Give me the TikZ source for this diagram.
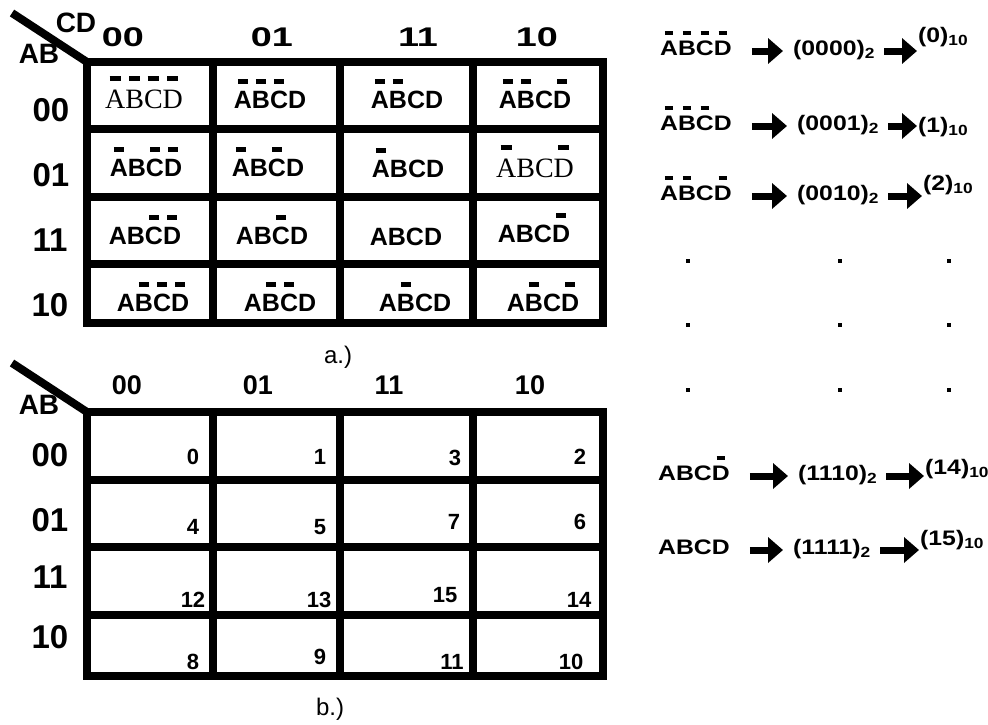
\documentclass[tikz,border=0pt]{standalone}
\usepackage{fontspec}
\setmainfont{Liberation Sans}
\newfontfamily\tmsfont{Liberation Serif}
\newfontfamily\hdfont{Liberation Sans}[FakeStretch=1.4]
\newfontfamily\rsfont{Liberation Sans}[FakeStretch=1.18]
\usetikzlibrary{arrows.meta}

% short bar over one letter
\newcommand{\nb}[1]{\ooalign{#1\cr\hidewidth\rule[0.98em]{0.4em}{0.17em}\hidewidth\cr}}

\tikzset{
  kline/.style={line width=8pt},
  hdtop/.style={font=\hdfont\bfseries\fontsize{27}{30}\selectfont},
  hdbot/.style={font=\bfseries\fontsize{27}{30}\selectfont},
  rowlbl/.style={font=\bfseries\fontsize{33}{36}\selectfont},
  varlbl/.style={font=\bfseries\fontsize{28}{30}\selectfont},
  cellsf/.style={font=\bfseries\fontsize{25}{28}\selectfont, text height=18pt, text depth=0pt, inner sep=0pt},
  cellrm/.style={font=\tmsfont\fontsize{28}{30}\selectfont, text height=18.5pt, text depth=0pt, inner sep=0pt},
  num/.style={font=\bfseries\fontsize{22}{24}\selectfont, inner sep=0pt},
  expr/.style={font=\rsfont\bfseries\fontsize{21}{23}\selectfont, inner sep=0pt, text height=12.5pt, text depth=4pt, anchor=west},
  blk/.style={line width=7pt, -{Triangle[length=15pt,width=25pt]}},
  blka/.style={blk, shorten <=20pt, shorten >=10pt},
  blkb/.style={blk, shorten <=9pt, shorten >=1pt},
  dotn/.style={fill, minimum size=4pt, inner sep=0pt},
  sublbl/.style={font=\fontsize{24}{26}\selectfont}
}

\begin{document}
\begin{tikzpicture}[x=1pt, y=-1pt]
  \useasboundingbox (0,0) rectangle (988,724);

  % a.) minterms
  \draw[kline] (12,13) -- (87,62);
  \draw[kline] (87,62) rectangle (603,323);
  \foreach \x in {213,340,473} \draw[kline] (\x,62) -- (\x,323);
  \foreach \y in {129,197,264} \draw[kline] (87,\y) -- (603,\y);
  \node[varlbl] (cdA) at (76,23) {CD};
  \node[varlbl] (abA) at (39,54) {AB};
  \node[hdtop] (hA1) at (123,37) {00}; \node[hdtop] (hA2) at (272,37) {01};
  \node[hdtop] (hA3) at (418,37) {11}; \node[hdtop] (hA4) at (537,37) {10};
  \node[rowlbl] (rA1) at (51,110) {00}; \node[rowlbl] (rA2) at (51,175) {01};
  \node[rowlbl] (rA3) at (50,240) {11}; \node[rowlbl] (rA4) at (50,305) {10};

  \node[cellrm] (p1) at (144,99) {\nb{A}\nb{B}\nb{C}\nb{D}};
  \node[cellsf] (p2) at (270,99) {\nb{A}\nb{B}\nb{C}D};
  \node[cellsf] (p3) at (407,99) {\nb{A}\nb{B}CD};
  \node[cellsf] (p4) at (535,99) {\nb{A}\nb{B}C\nb{D}};
  \node[cellsf] (p5) at (146,167) {\nb{A}B\nb{C}\nb{D}};
  \node[cellsf] (p6) at (268,167) {\nb{A}B\nb{C}D};
  \node[cellsf] (p7) at (408,168) {\nb{A}BCD};
  \node[cellrm] (p8) at (535,168) {\nb{A}BC\nb{D}};
  \node[cellsf] (p9) at (145,235) {AB\nb{C}\nb{D}};
  \node[cellsf] (p10) at (272,235) {AB\nb{C}D};
  \node[cellsf] (p11) at (406,236) {ABCD};
  \node[cellsf] (p12) at (534,233) {ABC\nb{D}};
  \node[cellsf] (p13) at (153,302) {A\nb{B}\nb{C}\nb{D}};
  \node[cellsf] (p14) at (280,302) {A\nb{B}\nb{C}D};
  \node[cellsf] (p15) at (415,302) {A\nb{B}CD};
  \node[cellsf] (p16) at (543,302) {A\nb{B}C\nb{D}};
  \node[sublbl] (capA) at (338,357) {a.)};

  % b.) cell numbers
  \draw[kline] (12,363) -- (87,412);
  \draw[kline] (87,412) rectangle (603,676);
  \foreach \x in {213,340,473} \draw[kline] (\x,412) -- (\x,676);
  \foreach \y in {480,547,615} \draw[kline] (87,\y) -- (603,\y);
  \node[varlbl] (abB) at (39,405) {AB};
  \node[hdbot] (hB1) at (127,385) {00}; \node[hdbot] (hB2) at (258,385) {01};
  \node[hdbot] (hB3) at (389,385) {11}; \node[hdbot] (hB4) at (530,385) {10};
  \node[rowlbl] (rB1) at (50,455) {00}; \node[rowlbl] (rB2) at (50,520) {01};
  \node[rowlbl] (rB3) at (50,577) {11}; \node[rowlbl] (rB4) at (50,637) {10};
  \foreach \n/\x/\y in {0/193/457, 1/320/457, 3/455/458, 2/580/457,
                        4/193/527, 5/320/527, 7/454/522, 6/580/522,
                        12/193/600, 13/319/600, 15/445/595, 14/579/600,
                        8/193/662, 9/320/657, 11/452/662, 10/571/662}
    \node[num] (q\n) at (\x,\y) {\n};
  \node[sublbl] (capB) at (330,709) {b.)};

  % minterm -> binary -> decimal
  \node[expr] (m1) at (660,51) {\nb{A}\nb{B}\nb{C}\nb{D}};
  \node[expr] (b1) at (793,51) {(0000)\textsubscript{2}};
  \node[expr] (d1) at (918,38) {(0)\textsubscript{10}};
  \node[expr] (m2) at (660,126) {\nb{A}\nb{B}\nb{C}D};
  \node[expr] (b2) at (797,126) {(0001)\textsubscript{2}};
  \node[expr] (d2) at (918,128) {(1)\textsubscript{10}};
  \node[expr] (m3) at (660,196) {\nb{A}\nb{B}C\nb{D}};
  \node[expr] (b3) at (797,196) {(0010)\textsubscript{2}};
  \node[expr] (d3) at (923,186) {(2)\textsubscript{10}};
  \node[expr] (m14) at (658,476) {ABC\nb{D}};
  \node[expr] (b14) at (798,476) {(1110)\textsubscript{2}};
  \node[expr] (d14) at (925,470) {(14)\textsubscript{10}};
  \node[expr] (m15) at (658,550) {ABCD};
  \node[expr] (b15) at (793,550) {(1111)\textsubscript{2}};
  \node[expr] (d15) at (920,541) {(15)\textsubscript{10}};
  \foreach \r in {1,2,3,14,15} {
    \draw[blka] (m\r.east) -- (b\r.west);
    \draw[blkb] (b\r.east) -- (d\r.west |- b\r.east);
  }
  \foreach \x in {688,840,949} \foreach \y in {261,325,390}
    \node[dotn] at (\x,\y) {};
\end{tikzpicture}
\end{document}
